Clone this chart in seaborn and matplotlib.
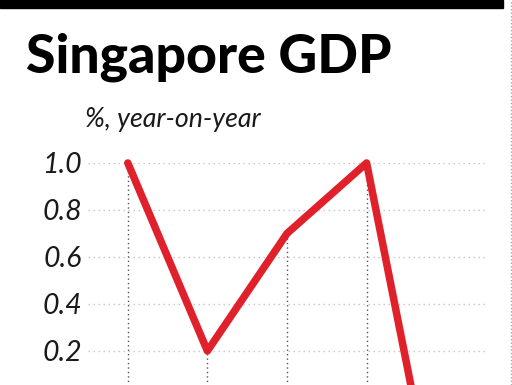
import matplotlib
matplotlib.use('Agg')
import matplotlib.pyplot as plt
from matplotlib.patches import Rectangle
from matplotlib.lines import Line2D
import seaborn as sns
import pandas as pd

# Quarterly GDP growth, %, year-on-year
quarters = ['Q1 2019', 'Q2 2019', 'Q3 2019', 'Q4 2019', 'Q1 2020']
growth = [1.0, 0.2, 0.7, 1.0, -0.7]
y_ticks = [0.2, 0.4, 0.6, 0.8, 1.0]

df = pd.DataFrame({'pos': range(len(quarters)), 'quarter': quarters, 'growth': growth})

sns.set_style('white')
plt.rcParams['font.family'] = ['Lato', 'DejaVu Sans']

fig = plt.figure(figsize=(5.12, 3.85), dpi=100)
ax = fig.add_axes([88 / 512, -0.522, 398 / 512, 1.0987])

ymin, ymax = -0.8, 1.0

# drop lines from each point
ax.vlines(df['pos'], ymin, df['growth'], colors='#555555', linewidth=1,
          linestyles=(0, (1, 2.2)), zorder=1)

sns.lineplot(data=df, x='pos', y='growth', ax=ax, color='#e0202b', linewidth=5.4,
             solid_capstyle='round', solid_joinstyle='round', zorder=3)
for l in ax.lines:
    l.set_clip_on(False)

ax.set_xlim(-0.5, len(quarters) - 0.5)
ax.set_ylim(ymin, ymax)
ax.set_yticks(y_ticks)
ax.set_yticklabels([f'{v:.1f}' for v in y_ticks], fontsize=20.5, fontstyle='italic', color='#1a1a1a')
ax.set_xticks([])
ax.tick_params(axis='y', length=0, pad=4.3)
# horizontal gridlines, the lower ones sit below the visible area
for v in [-0.6, -0.4, -0.2, 0.0]:
    ax.axhline(v, color='#c4c4c4', linewidth=1, linestyle=(0, (1, 2.6)), zorder=0)
ax.yaxis.grid(True, color='#c4c4c4', linewidth=1, linestyle=(0, (1, 2.6)))
ax.set_axisbelow(True)
for s in ax.spines.values():
    s.set_visible(False)
ax.set_xlabel('')
ax.set_ylabel('')

fig.text(26 / 512, 1 - 73 / 385, 'Singapore GDP', fontsize=38.5, fontweight='black',
         color='black', va='baseline', ha='left')
fig.text(85 / 512, 1 - 127 / 385, '%, year-on-year', fontsize=19.3, fontstyle='italic',
         color='#1a1a1a', va='baseline', ha='left')

fig.patches.append(Rectangle((0, 1 - 8 / 385), 503 / 512, 8 / 385, color='black',
                             transform=fig.transFigure, figure=fig))
fig.lines.append(Line2D([510.5 / 512, 510.5 / 512], [0, 1], transform=fig.transFigure,
                        color='#8fb0b8', linewidth=1, linestyle=(0, (1, 1.5)), figure=fig))

fig.savefig('out.png', dpi=100)
